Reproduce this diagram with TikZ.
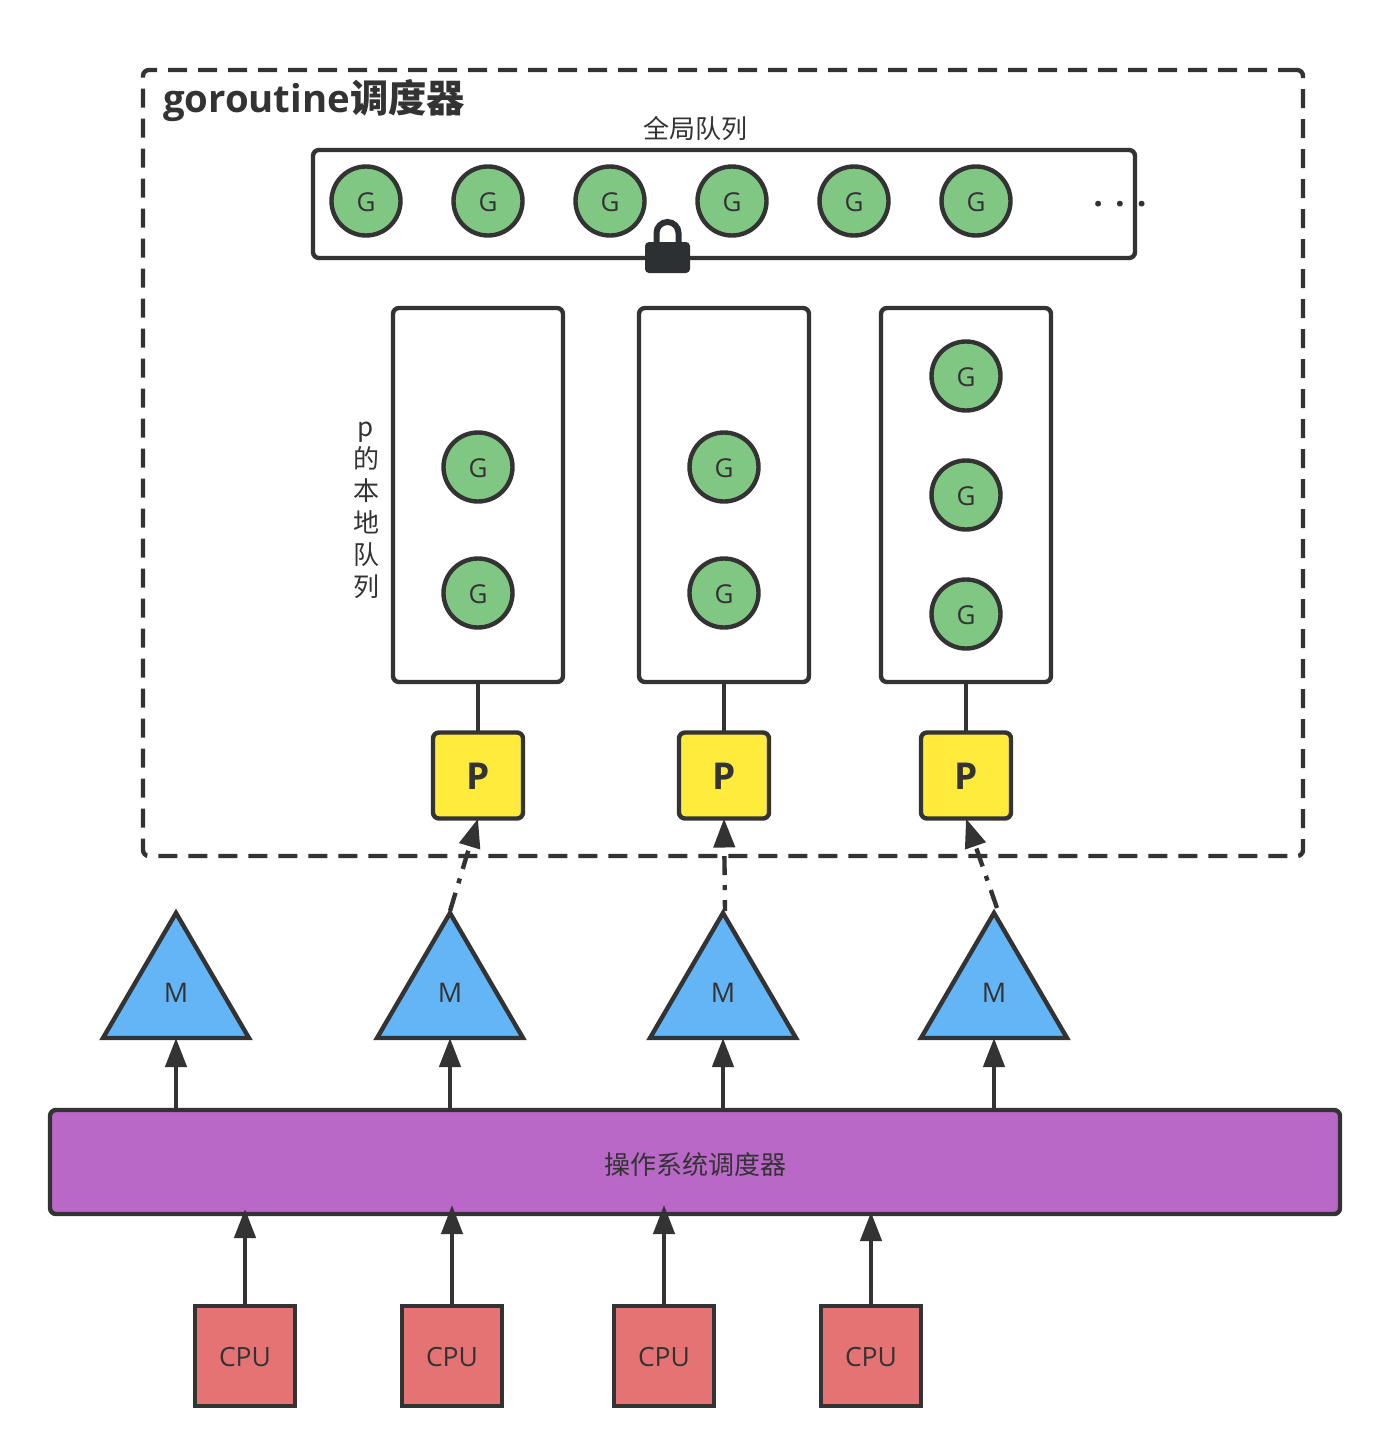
\documentclass[tikz,border=0pt]{standalone}
\usepackage{fontspec}
\setmainfont{Open Sans}
\newfontfamily\cjk{Noto Sans CJK SC}
\usetikzlibrary{shapes.geometric, arrows.meta}
\definecolor{ink}{HTML}{333333}
\tikzstyle{outline} = [rectangle, rounded corners=6pt, inner sep=0pt, outer sep=0pt, draw=ink, line width=4.4pt, text=ink]
\tikzstyle{frame} = [outline, dashed, dash pattern=on 19pt off 11pt, minimum width=1160pt, minimum height=786pt]
\tikzstyle{queue} = [outline, minimum width=822pt, minimum height=108pt]
\tikzstyle{local} = [outline, minimum width=170pt, minimum height=374pt]
\tikzstyle{gnode} = [circle, inner sep=0pt, outer sep=0pt, minimum size=69pt, draw=ink, line width=4.4pt, fill={rgb,255:red,129;green,199;blue,132}, text=ink, text height=20.6pt, font=\fontsize{26}{30}\selectfont]
\tikzstyle{pnode} = [outline, minimum width=90pt, minimum height=86pt, fill={rgb,255:red,255;green,235;blue,59}, text height=27.5pt, font=\fontsize{37}{40}\selectfont\bfseries]
\tikzstyle{mnode} = [isosceles triangle, isosceles triangle apex angle=59, isosceles triangle stretches, shape border rotate=90, anchor=apex, inner sep=0pt, outer sep=0pt, minimum width=146pt, minimum height=125pt, draw=ink, line width=4.4pt, line join=miter, fill={rgb,255:red,100;green,181;blue,246}]
\tikzstyle{mtext} = [text=ink, font=\fontsize{27}{30}\selectfont]
\tikzstyle{osnode} = [outline, minimum width=1290pt, minimum height=104pt, fill={rgb,255:red,186;green,104;blue,200}]
\tikzstyle{cpunode} = [rectangle, inner sep=0pt, outer sep=0pt, minimum size=100pt, draw=ink, line width=4.4pt, fill={rgb,255:red,229;green,115;blue,115}, text=ink, text height=21pt, font=\fontsize{26.5}{30}\selectfont]
\tikzstyle{cnlabel} = [text=ink, font=\cjk\fontsize{26}{32}\selectfont]
\tikzstyle{link} = [draw=ink, line width=4.4pt]
\tikzstyle{arrow} = [link, -{Triangle[length=29pt,width=21pt]}]
\tikzstyle{dotarrow} = [arrow, dash pattern=on 19pt off 10pt on 5pt off 10pt]

\begin{document}
\begin{tikzpicture}[x=1pt, y=-1pt, node distance=122pt]
\useasboundingbox (0,0) rectangle (1390,1456);
\node (sched) [frame] at (723,463) {};
\node (title) [anchor=west, text=ink, font=\fontsize{38.3}{44}\selectfont\bfseries] at (159.5,101) {goroutine{\cjk\bfseries 调度器}};
\node (globallabel) [cnlabel] at (695,129) {全局队列};
% global queue
\node (global) [queue] at (724,204) {};
\node (g1) [gnode] at (366,201) {G};
\node (g2) [gnode, right of=g1] {G};
\node (g3) [gnode, right of=g2] {G};
\node (g4) [gnode, right of=g3] {G};
\node (g5) [gnode, right of=g4] {G};
\node (g6) [gnode, right of=g5] {G};
\node (more) [text=ink, font=\fontsize{34}{38}\selectfont\bfseries] at (1120,204) {.\hspace{12pt}.\hspace{12pt}.};
% lock
\draw [draw={rgb,255:red,45;green,48;blue,51}, line width=6pt] (656.5,245) -- (656.5,233) arc (180:0:11pt) -- (678.5,245);
\node (lock) [rectangle, rounded corners=4pt, minimum width=45pt, minimum height=31pt, inner sep=0pt, fill={rgb,255:red,45;green,48;blue,51}] at (667.5,257.5) {};
% local queues
\node (plabel) [cnlabel, align=center] at (366,510) {p\\的\\本\\地\\队\\列};
\node (lq1) [local] at (478,495) {};
\node (lq2) [local] at (724,495) {};
\node (lq3) [local] at (966,495) {};
\node (l1a) [gnode] at (478,467) {G};
\node (l1b) [gnode, below of=l1a, node distance=126pt] {G};
\node (l2a) [gnode] at (724,467) {G};
\node (l2b) [gnode, below of=l2a, node distance=126pt] {G};
\node (l3a) [gnode] at (966,376) {G};
\node (l3b) [gnode, below of=l3a, node distance=119pt] {G};
\node (l3c) [gnode, below of=l3b, node distance=119pt] {G};
\node (p1) [pnode] at (478,775.5) {P};
\node (p2) [pnode] at (724,775.5) {P};
\node (p3) [pnode] at (966,775.5) {P};
\draw [link] (lq1) -- (p1);
\draw [link] (lq2) -- (p2);
\draw [link] (lq3) -- (p3);
% threads
\node (m1) [mnode] at (176,913) {};
\node (m2) [mnode] at (450,913) {};
\node (m3) [mnode] at (723,913) {};
\node (m4) [mnode] at (994,913) {};
\node (mt1) [mtext] at (176,993) {M};
\node (mt2) [mtext] at (450,993) {M};
\node (mt3) [mtext] at (723,993) {M};
\node (mt4) [mtext] at (994,993) {M};
\coordinate (top2) at (450,911);
\coordinate (top3) at (725,911);
\coordinate (top4) at (997,908);
\draw [dotarrow] (top2) -- (p1.south);
\draw [dotarrow, dash phase=8pt] (top3) -- (p2.south);
\draw [dotarrow] (top4) -- (p3.south);
% os scheduler
\node (os) [osnode] at (695,1162) {};
\node (oslabel) [cnlabel] at (695,1165) {操作系统调度器};
\coordinate (b1) at (176,1038);
\coordinate (b2) at (450,1038);
\coordinate (b3) at (723,1038);
\coordinate (b4) at (994,1038);
\draw [arrow] (b1 |- os.north) -- (b1);
\draw [arrow] (b2 |- os.north) -- (b2);
\draw [arrow] (b3 |- os.north) -- (b3);
\draw [arrow] (b4 |- os.north) -- (b4);
% cpus
\node (cpu1) [cpunode] at (245,1356) {CPU};
\node (cpu2) [cpunode] at (452,1356) {CPU};
\node (cpu3) [cpunode] at (664,1356) {CPU};
\node (cpu4) [cpunode] at (871,1356) {CPU};
\coordinate (in1) at (245,1209);
\coordinate (in2) at (452,1205);
\coordinate (in3) at (664,1205);
\coordinate (in4) at (871,1212);
\draw [arrow] (cpu1) -- (in1);
\draw [arrow] (cpu2) -- (in2);
\draw [arrow] (cpu3) -- (in3);
\draw [arrow] (cpu4) -- (in4);
\end{tikzpicture}
\end{document}
